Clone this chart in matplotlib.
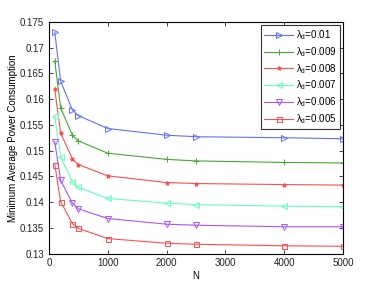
import matplotlib
matplotlib.use("Agg")
import matplotlib.pyplot as plt

plt.rcParams['font.family'] = ['Liberation Sans', 'DejaVu Sans']
plt.rcParams['mathtext.fontset'] = 'custom'
plt.rcParams['mathtext.rm'] = 'Liberation Sans'
plt.rcParams['mathtext.it'] = 'Liberation Sans'

N = [100, 200, 400, 500, 1000, 2000, 2500, 4000, 5000]
labels = ['0.01', '0.009', '0.008', '0.007', '0.006', '0.005']
p001 = [0.1730, 0.1635, 0.1579, 0.1568, 0.1543, 0.1530, 0.1527, 0.1525, 0.1523]
p0009 = [0.1674, 0.1583, 0.1530, 0.1519, 0.1495, 0.1483, 0.1480, 0.1477, 0.1476]
p0008 = [0.1619, 0.1534, 0.1484, 0.1473, 0.1451, 0.1438, 0.1436, 0.1434, 0.1433]
p0007 = [0.1567, 0.1488, 0.1439, 0.1429, 0.1407, 0.1398, 0.1395, 0.1392, 0.1391]
p0006 = [0.1517, 0.1442, 0.1398, 0.1387, 0.1368, 0.1357, 0.1355, 0.1352, 0.1352]
p0005 = [0.1473, 0.1401, 0.1358, 0.1349, 0.1329, 0.1320, 0.1318, 0.1315, 0.1314]
series = [p001, p0009, p0008, p0007, p0006, p0005]

colors = ['#6070ff', '#44aa33', '#ff4d4d', '#66ffbb', '#aa55ff', '#ff4d4d']
markers = ['>', '+', '*', '<', 'v', 's']
msizes = [4, 4.5, 3.2, 4, 4, 3.6]

fig = plt.figure(figsize=(3.79, 2.86), dpi=100)
ax = fig.add_axes([0.129, 0.1136, 0.776, 0.8094])
for y, lab, c, m, ms in zip(series, labels, colors, markers, msizes):
    ax.plot(N, y, color=c, marker=m, markersize=ms, linewidth=0.8,
            markerfacecolor='none' if m not in ('+', '*') else c,
            markeredgewidth=0.7, label=r'$\lambda_{\mathrm{d}}$=' + lab)

ax.set_xlim(0, 5000)
ax.set_ylim(0.13, 0.175)
ax.set_xticks([0, 1000, 2000, 3000, 4000, 5000])
ax.set_yticks([0.13, 0.135, 0.14, 0.145, 0.15, 0.155, 0.16, 0.165, 0.17, 0.175])
ax.set_yticklabels(['0.13', '0.135', '0.14', '0.145', '0.15', '0.155', '0.16', '0.165', '0.17', '0.175'])
ax.tick_params(direction='in', top=True, right=True, labelsize=7, length=3, width=0.6, colors='#222222')
for s in ax.spines.values():
    s.set_linewidth(0.8)
ax.set_xlabel('N', fontsize=7, labelpad=2)
ax.set_ylabel('Minimum Average Power Consumption', fontsize=7, labelpad=1)
leg = ax.legend(loc='upper right', fontsize=7, frameon=True, fancybox=False,
                edgecolor='black', borderaxespad=0.3, handlelength=3.0,
                labelspacing=0.3, borderpad=0.35, handletextpad=0.3)
leg.get_frame().set_linewidth(0.8)
fig.savefig('out.png', dpi=100)
